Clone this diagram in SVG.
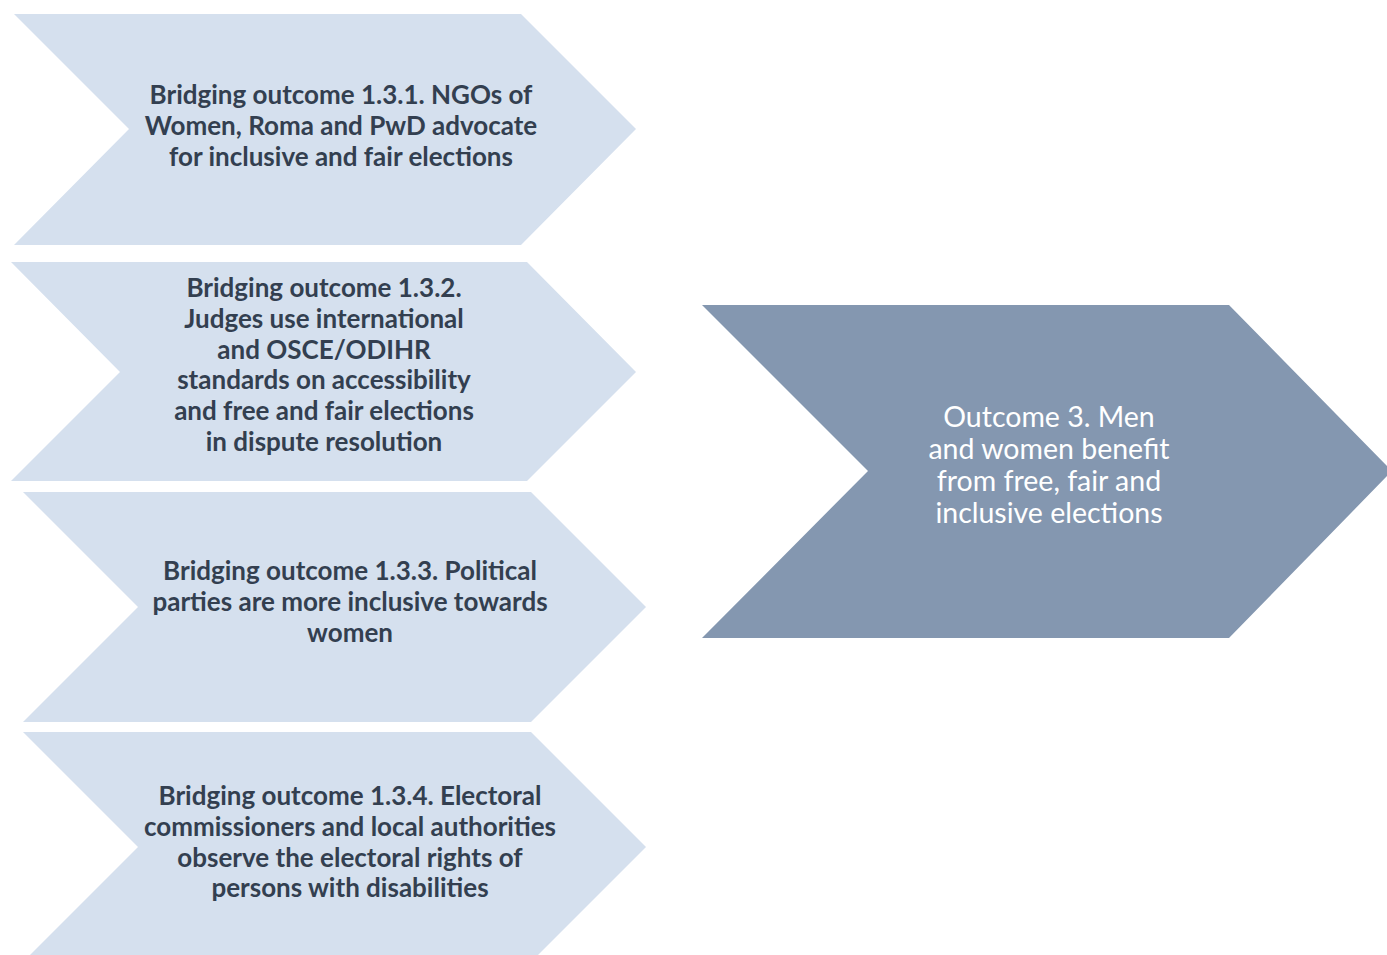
<svg xmlns="http://www.w3.org/2000/svg" width="1387" height="955" viewBox="0 0 1387 955">
<style>
.lt{fill:#D5E0EE}
.dk{fill:#8497B0}
.t{font-family:Lato,"Open Sans","Liberation Sans",sans-serif;font-weight:bold;font-size:26px;fill:#333F50;text-anchor:middle}
.w{font-family:Lato,"Open Sans","Liberation Sans",sans-serif;font-size:28.5px;fill:#FFFFFF;text-anchor:middle}
</style>
<rect width="1387" height="955" fill="#FFFFFF"/>
<g id="connectors"></g>
<g id="node1">
<polygon class="lt" points="14,14 521,14 636,129 521,245 14,245 129,129"/>
<text class="t"><tspan x="341" y="104">Bridging outcome 1.3.1. NGOs of</tspan><tspan x="341" y="135">Women, Roma and PwD advocate</tspan><tspan x="341" y="166">for inclusive and fair elections</tspan></text>
</g>
<g id="node2">
<polygon class="lt" points="11,262 527,262 636,372 527,481 11,481 120,372"/>
<text class="t"><tspan x="324" y="297">Bridging outcome 1.3.2.</tspan><tspan x="324" y="328">Judges use international</tspan><tspan x="324" y="359">and OSCE/ODIHR</tspan><tspan x="324" y="389">standards on accessibility</tspan><tspan x="324" y="420">and free and fair elections</tspan><tspan x="324" y="451">in dispute resolution</tspan></text>
</g>
<g id="node3">
<polygon class="lt" points="23,492 531,492 646,607 531,722 23,722 138,607"/>
<text class="t"><tspan x="350" y="580">Bridging outcome 1.3.3. Political</tspan><tspan x="350" y="611">parties are more inclusive towards</tspan><tspan x="350" y="642">women</tspan></text>
</g>
<g id="node4">
<polygon class="lt" points="23,732 531,732 646,847 531,962 23,962 138,847"/>
<text class="t"><tspan x="350" y="805">Bridging outcome 1.3.4. Electoral</tspan><tspan x="350" y="836">commissioners and local authorities</tspan><tspan x="350" y="867">observe the electoral rights of</tspan><tspan x="350" y="897">persons with disabilities</tspan></text>
</g>
<g id="node5">
<polygon class="dk" points="702,305 1229,305 1392,471 1229,638 702,638 868,471"/>
<text class="w"><tspan x="1049" y="427">Outcome 3. Men</tspan><tspan x="1049" y="459">and women benefit</tspan><tspan x="1049" y="491">from free, fair and</tspan><tspan x="1049" y="523">inclusive elections</tspan></text>
</g>
</svg>
